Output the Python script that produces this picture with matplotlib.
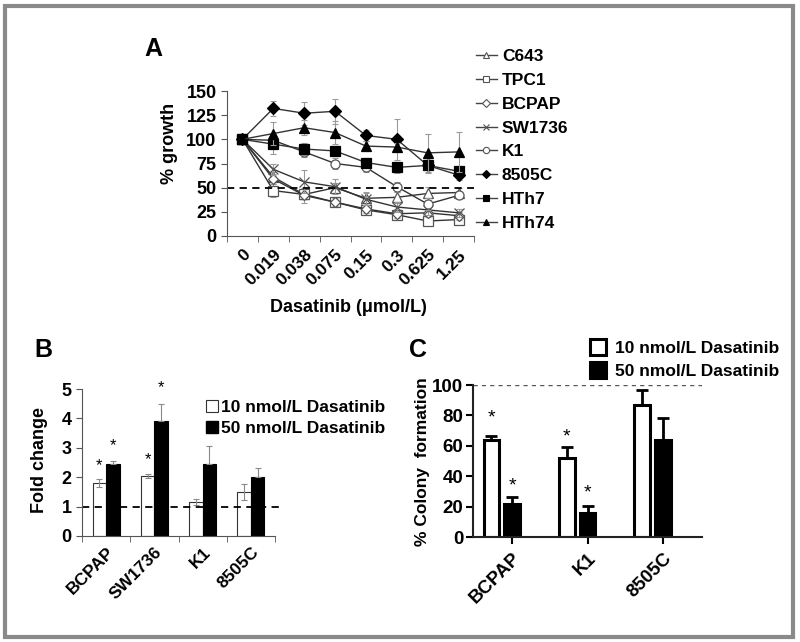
import matplotlib.pyplot as plt
from matplotlib.lines import Line2D
from matplotlib.patches import Rectangle
import numpy as np

plt.rcParams['font.family'] = ['Liberation Sans', 'DejaVu Sans']
plt.rcParams['font.weight'] = 'bold'

# ---- panel A data: % growth vs dasatinib dose
doses = ['0', '0.019', '0.038', '0.075', '0.15', '0.3', '0.625', '1.25']
cell_lines = ['C643', 'TPC1', 'BCPAP', 'SW1736', 'K1', '8505C', 'HTh7', 'HTh74']
c643 = [100, 61, 43, 50, 39, 40, 44, 45]
tpc1 = [100, 47, 43, 35, 27, 22, 15.5, 17]
bcpap = [100, 59, 42, 35, 28, 23, 24, 21]
sw1736 = [100, 69, 56, 51, 38, 30, 27, 24]
k1 = [100, 99, 87, 75, 71, 51, 33, 42]
c8505 = [100, 132, 127, 129, 104, 100, 73, 63]
hth7 = [100, 95, 90, 88, 76, 71, 73, 67]
hth74 = [100, 106, 112, 107, 93, 92, 86, 87]
err_c643 = [0, 5, 5, 5, 7, 6, 7, 5]
err_tpc1 = [0, 7, 5, 4, 4, 4, 3, 4]
err_bcpap = [0, 5, 8, 4, 4, 4, 4, 4]
err_sw1736 = [0, 6, 12, 8, 6, 5, 5, 4]
err_k1 = [0, 5, 5, 6, 5, 5, 6, 4]
err_c8505 = [0, 8, 12, 13, 6, 21, 4, 5]
err_hth7 = [0, 10, 6, 5, 5, 6, 8, 5]
err_hth74 = [0, 12, 8, 12, 5, 4, 20, 21]

# ---- panel B data: fold change
b_lines = ['BCPAP', 'SW1736', 'K1', '8505C']
b_10nm = [1.8, 2.05, 1.15, 1.5]
b_10nm_err = [0.13, 0.07, 0.1, 0.28]
b_50nm = [2.45, 3.9, 2.45, 2.02]
b_50nm_err = [0.1, 0.6, 0.6, 0.3]

# ---- panel C data: % colony formation
c_lines = ['BCPAP', 'K1', '8505C']
c_10nm = [64, 52, 87]
c_10nm_err = [2.5, 7, 10]
c_50nm = [22, 15.5, 64]
c_50nm_err = [4, 5, 14]

W, H = 800, 642
fig = plt.figure(figsize=(8, 6.42), dpi=100)

def fx(px):
    return px / W

def fy(py):
    return 1 - py / H

# outer grey frame
fig.patches.append(Rectangle((fx(5), fy(637)), fx(788), 631 / H,
                             transform=fig.transFigure, fill=False, ec='#8a8a8a', lw=3))

axcol = '#555555'

# ================= panel A
axA = fig.add_axes([fx(227), fy(236), fx(474 - 227), (236 - 91) / H])
series = [(c643, err_c643, '^', 'white'), (tpc1, err_tpc1, 's', 'white'),
          (bcpap, err_bcpap, 'D', 'white'), (sw1736, err_sw1736, 'x', 'none'),
          (k1, err_k1, 'o', 'white'), (c8505, err_c8505, 'D', 'black'),
          (hth7, err_hth7, 's', 'black'), (hth74, err_hth74, '^', 'black')]
x = np.arange(len(doses))
handles = []
for (vals, err, mk, face), name in zip(series, cell_lines):
    ec = '#555555' if face != 'black' else 'black'
    ms = 6.5
    if mk == 'D':
        ms = 5 if face == 'white' else 6
    axA.errorbar(x, vals, yerr=err, fmt='none', ecolor='#9a9a9a', elinewidth=0.8, capsize=2.5, capthick=0.8)
    axA.plot(x, vals, color='#333333', lw=1.0, marker=mk, ms=ms, mfc=face, mec=ec, mew=0.9)
    handles.append(Line2D([], [], color='#444444', lw=1.0, marker=mk, ms=4.5, mfc=face, mec=ec, mew=0.8))
axA.axhline(50, color='black', ls=(0, (4, 3)), lw=1.3)
axA.set_xlim(-0.5, 7.5)
axA.set_ylim(0, 150)
axA.set_yticks([0, 25, 50, 75, 100, 125, 150])
axA.set_xticks(x)
axA.set_xticklabels(doses, rotation=45, ha='right', rotation_mode='anchor', fontsize=12.5)
axA.set_xticks(np.arange(-0.5, 8, 1), minor=True)
axA.tick_params(axis='x', which='major', length=0, pad=8)
axA.tick_params(axis='x', which='minor', length=4, color=axcol)
axA.tick_params(axis='y', length=4, color=axcol, labelsize=13)
for s in ['top', 'right']:
    axA.spines[s].set_visible(False)
for s in ['left', 'bottom']:
    axA.spines[s].set_color(axcol)
fig.text(fx(170), fy(143), '% growth', rotation=90, ha='center', va='center', fontsize=13)
fig.text(fx(348), fy(307), 'Dasatinib (\u03bcmol/L)', ha='center', va='center', fontsize=13)
fig.text(fx(153), fy(49), 'A', ha='center', va='center', fontsize=18)
fig.legend(handles, cell_lines, loc='upper left', bbox_to_anchor=(fx(469), fy(42)),
           frameon=False, fontsize=12.5, handlelength=1.2, handletextpad=0.3, labelspacing=0.5,
           borderaxespad=0)

# ================= panel B
axB = fig.add_axes([fx(82), fy(536), fx(275 - 82), (536 - 389) / H])
xb = np.arange(len(b_lines))
bw = 0.28
axB.bar(xb - bw / 2, b_10nm, bw, color='white', edgecolor='#333333', lw=0.8,
        yerr=b_10nm_err, ecolor='#8a8a8a', error_kw=dict(elinewidth=0.8, capsize=2.5, capthick=0.8))
axB.bar(xb + bw / 2, b_50nm, bw, color='black', edgecolor='black', lw=0.8,
        yerr=[[0] * 4, b_50nm_err], ecolor='#8a8a8a', error_kw=dict(elinewidth=0.8, capsize=2.5, capthick=0.8))
axB.plot([-0.5, 3.62], [1, 1], color='black', ls=(0, (4, 3)), lw=1.3, clip_on=False)
for xi, yi in [(0 - bw / 2, 2.38), (0 + bw / 2, 3.06), (1 - bw / 2, 2.6), (1 + bw / 2, 5.05)]:
    axB.text(xi, yi, '*', ha='center', va='center', fontsize=12, fontweight='normal', clip_on=False)
axB.set_xlim(-0.5, 3.5)
axB.set_ylim(0, 5)
axB.set_yticks([0, 1, 2, 3, 4, 5])
axB.set_xticks(xb)
axB.set_xticklabels(b_lines, rotation=45, ha='right', rotation_mode='anchor', fontsize=12.5)
axB.set_xticks(np.arange(-0.5, 4, 1), minor=True)
axB.tick_params(axis='x', which='major', length=0, pad=6)
axB.tick_params(axis='x', which='minor', length=4, color=axcol)
axB.tick_params(axis='y', length=4, color=axcol, labelsize=13)
for s in ['top', 'right']:
    axB.spines[s].set_visible(False)
for s in ['left', 'bottom']:
    axB.spines[s].set_color(axcol)
fig.text(fx(40), fy(460), 'Fold change', rotation=90, ha='center', va='center', fontsize=13)
fig.text(fx(43), fy(350), 'B', ha='center', va='center', fontsize=18)
hb = [Line2D([], [], ls='none', marker='s', ms=8, mfc='white', mec='#333333', mew=0.8),
      Line2D([], [], ls='none', marker='s', ms=8, mfc='black', mec='black')]
fig.legend(hb, ['10 nmol/L Dasatinib', '50 nmol/L Dasatinib'], loc='upper left',
           bbox_to_anchor=(fx(199), fy(393)), frameon=False, fontsize=12.5, handlelength=0.7,
           handletextpad=0.15, labelspacing=0.35, borderaxespad=0)

# ================= panel C
axC = fig.add_axes([fx(473), fy(537), fx(702 - 473), (537 - 385) / H])
xc = np.arange(len(c_lines))
cw = 0.21
axC.bar(xc - 0.275, c_10nm, cw, color='white', edgecolor='black', lw=2.2,
        yerr=[[0] * 3, c_10nm_err], ecolor='black', error_kw=dict(elinewidth=2, capsize=4, capthick=2))
axC.bar(xc, c_50nm, cw, color='black', edgecolor='black', lw=2.2,
        yerr=[[0] * 3, c_50nm_err], ecolor='black', error_kw=dict(elinewidth=2, capsize=4, capthick=2))
axC.axhline(100, color='#555555', ls=(0, (3, 3)), lw=1.0)
for xi, yi in [(0 - 0.275, 78), (0, 33.5), (1 - 0.275, 66), (1, 29)]:
    axC.text(xi, yi, '*', ha='center', va='center', fontsize=14, fontweight='normal')
axC.set_xlim(-0.52, 2.52)
axC.set_ylim(0, 100)
axC.set_yticks([0, 20, 40, 60, 80, 100])
axC.set_xticks(xc)
axC.set_xticklabels(c_lines, rotation=45, ha='right', rotation_mode='anchor', fontsize=13.5)
axC.tick_params(axis='x', length=5, width=1.5, pad=4)
axC.tick_params(axis='y', length=5, width=1.5, pad=2, labelsize=13.5)
for s in ['top', 'right']:
    axC.spines[s].set_visible(False)
for s in ['left', 'bottom']:
    axC.spines[s].set_linewidth(1.5)
    axC.spines[s].set_color('#222222')
fig.text(fx(422), fy(462), '% Colony  formation', rotation=90, ha='center', va='center', fontsize=12.5)
fig.text(fx(418), fy(350), 'C', ha='center', va='center', fontsize=18)
hc = [Line2D([], [], ls='none', marker='s', ms=11, mfc='white', mec='black', mew=2.2),
      Line2D([], [], ls='none', marker='s', ms=11, mfc='black', mec='black', mew=2.2)]
fig.legend(hc, ['10 nmol/L Dasatinib', '50 nmol/L Dasatinib'], loc='upper left',
           bbox_to_anchor=(fx(582), fy(334)), frameon=False, fontsize=12.5, handlelength=1.0,
           handletextpad=0.5, labelspacing=0.45, borderaxespad=0)

fig.savefig('out.png', dpi=100)
